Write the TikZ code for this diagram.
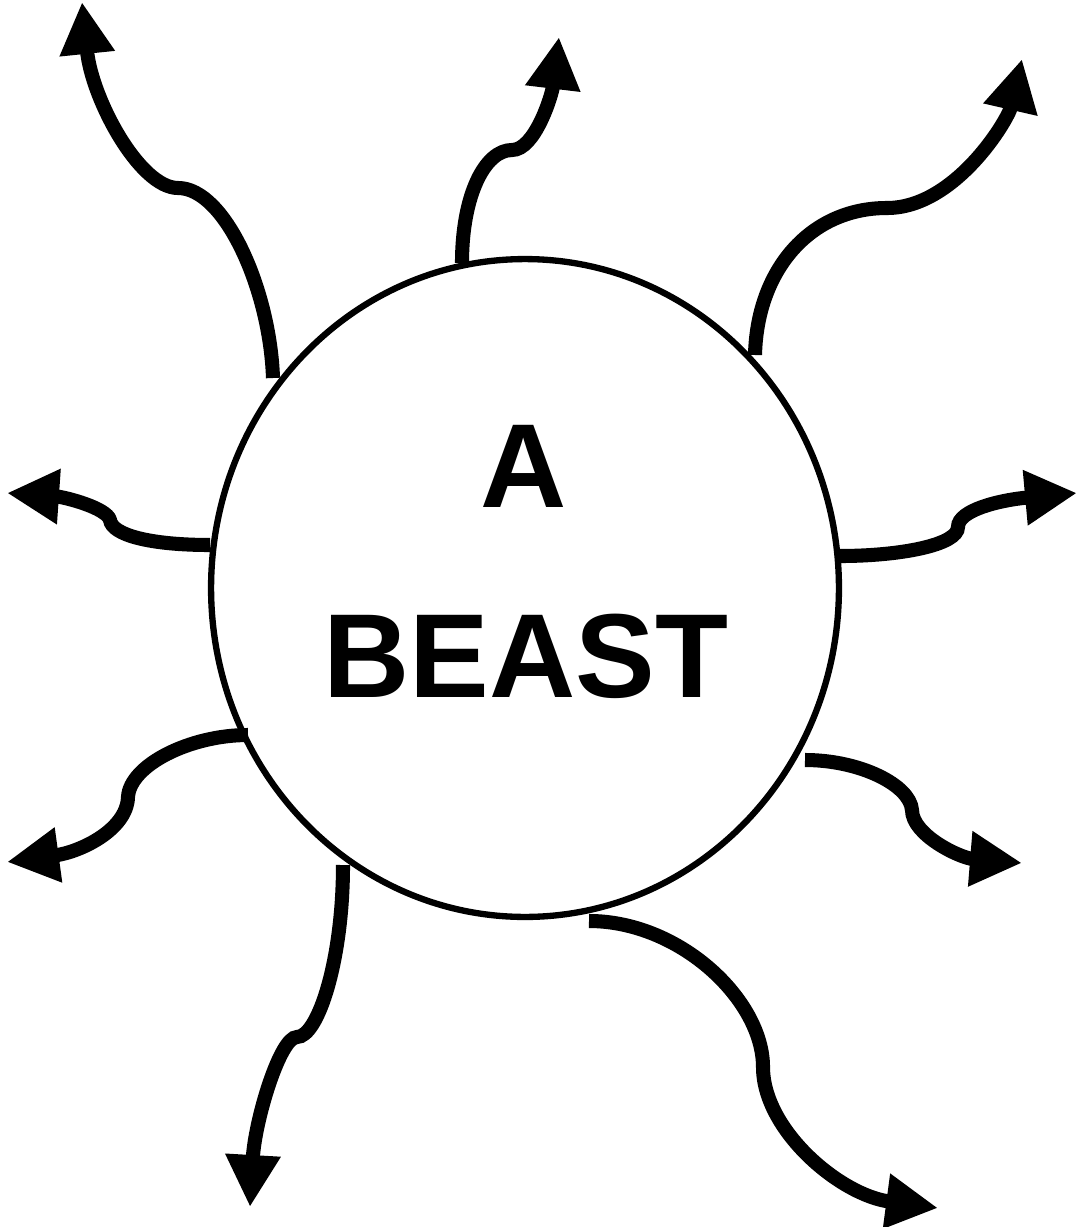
\documentclass[tikz,border=0pt]{standalone}
\usepackage{fontspec}
\setmainfont{Liberation Sans}
\usetikzlibrary{arrows.meta, shapes.geometric}
\tikzset{every node/.append style={font=\bfseries\fontsize{68}{80}\selectfont}}

\begin{document}
\begin{tikzpicture}[x=0.02cm, y=-0.02cm, >={Triangle[length=1.04cm, width=1.04cm]},
    tendril/.style={->, line width=8pt}]
    \useasboundingbox (0,0) rectangle (1077,1227);
    \node[draw, ellipse, line width=3.6pt, minimum width=12.56cm, minimum height=13.16cm, inner sep=0] (beast) at (525,588) {};
    \node[inner sep=0] (wordA) at (524,466) {A};
    \node[inner sep=0] (wordBeast) at (526,656) {BEAST};
    \coordinate (ul) at (273,378);
    \coordinate (ulbend) at (178,188);
    \coordinate (ultip) at (82,2);
    \coordinate (top) at (462,263);
    \coordinate (topbend) at (512,150);
    \coordinate (toptip) at (559,37);
    \coordinate (ur) at (755,355);
    \coordinate (urbend) at (887,208);
    \coordinate (urtip) at (1022,59);
    \coordinate (rt) at (840,556);
    \coordinate (rtbend) at (958,527);
    \coordinate (rttip) at (1077,493);
    \coordinate (lr) at (805,760);
    \coordinate (lrbend) at (912,810);
    \coordinate (lrtip) at (1022,863);
    \coordinate (br) at (589,921);
    \coordinate (brbend) at (763,1067);
    \coordinate (brtip) at (938,1208);
    \coordinate (bl) at (343,865);
    \coordinate (blbend) at (297,1037);
    \coordinate (bltip) at (250,1207);
    \coordinate (ll) at (248,735);
    \coordinate (llbend) at (128,797);
    \coordinate (lltip) at (7,862);
    \coordinate (lf) at (210,545);
    \coordinate (lfbend) at (110,520);
    \coordinate (lftip) at (7,493);
    \draw[tendril] (ul) .. controls (270,290) and (225,188) .. (ulbend) .. controls (140,188) and (92,100) .. (ultip);
    \draw[tendril] (top) .. controls (462,195) and (485,150) .. (topbend) .. controls (535,150) and (552,95) .. (toptip);
    \draw[tendril] (ur) .. controls (757,270) and (810,208) .. (urbend) .. controls (955,208) and (1008,120) .. (urtip);
    \draw[tendril] (rt) .. controls (900,556) and (958,545) .. (rtbend) .. controls (958,510) and (1000,500) .. (rttip);
    \draw[tendril] (lr) .. controls (860,760) and (910,785) .. (lrbend) .. controls (912,835) and (960,858) .. (lrtip);
    \draw[tendril] (br) .. controls (680,921) and (763,1000) .. (brbend) .. controls (763,1130) and (840,1195) .. (brtip);
    \draw[tendril] (bl) .. controls (343,960) and (318,1037) .. (blbend) .. controls (280,1037) and (255,1120) .. (bltip);
    \draw[tendril] (ll) .. controls (190,735) and (130,765) .. (llbend) .. controls (127,830) and (80,852) .. (lltip);
    \draw[tendril] (lf) .. controls (150,545) and (112,535) .. (lfbend) .. controls (107,508) and (65,497) .. (lftip);
\end{tikzpicture}
\end{document}
